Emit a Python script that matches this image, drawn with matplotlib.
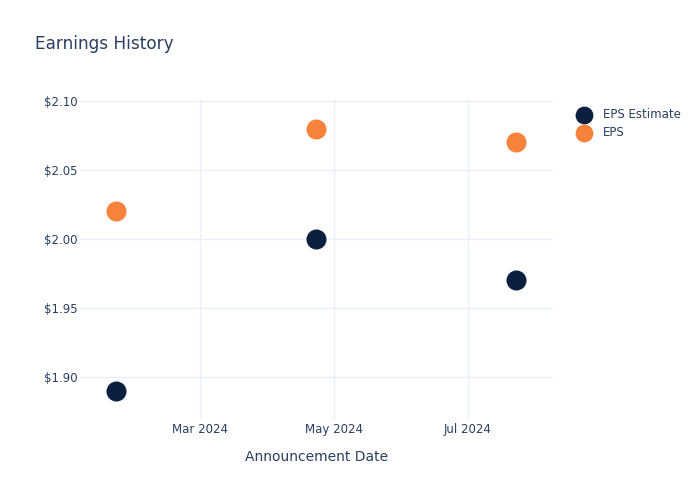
import matplotlib
matplotlib.use("Agg")
import matplotlib.pyplot as plt
import matplotlib.dates as mdates
import numpy as np
from datetime import datetime

# データ
dates = [datetime(2024, 1, 23), datetime(2024, 4, 23), datetime(2024, 7, 23)]
eps_estimate = [1.89, 2.00, 1.97]
eps_actual = [2.02, 2.08, 2.07]

text_color = "#2a3f5f"
grid_color = "#ebf0f8"

fig = plt.figure(figsize=(7, 5), dpi=100)
ax = fig.add_axes([80 / 700, 80 / 500, (553 - 80) / 700, (420 - 100) / 500])

ax.scatter(dates, eps_estimate, s=180, color="#0c1f3f", label="EPS Estimate", zorder=3)
ax.scatter(dates, eps_actual, s=180, color="#f7823a", label="EPS", zorder=3)

ax.set_xlim(datetime(2024, 1, 6, 10), datetime(2024, 8, 8, 16))
ax.set_ylim(1.8688, 2.1007)
ax.set_yticks([1.90, 1.95, 2.00, 2.05, 2.10])
ax.yaxis.set_major_formatter(matplotlib.ticker.FuncFormatter(lambda v, p: f"${v:.2f}"))
ax.xaxis.set_major_locator(mdates.MonthLocator(bymonth=[3, 5, 7]))
ax.xaxis.set_major_formatter(mdates.DateFormatter("%b %Y"))

for s in ax.spines.values():
    s.set_visible(False)
ax.grid(True, color=grid_color, linewidth=1)
ax.set_axisbelow(True)
ax.tick_params(length=0, labelsize=8.5, colors=text_color)
ax.tick_params(axis="x", pad=2.5)
ax.tick_params(axis="y", pad=1.5)

ax.set_xlabel("Announcement Date", fontsize=10, color=text_color, labelpad=10)
fig.text(35 / 700, 1 - 44 / 500, "Earnings History", fontsize=12.2, color=text_color, va="center")

leg = ax.legend(loc="upper left", bbox_to_anchor=(562 / 700, 1 - 97 / 500),
                bbox_transform=fig.transFigure, frameon=False, fontsize=8.5,
                handletextpad=0.55, labelspacing=0.45, markerscale=0.88)
for t in leg.get_texts():
    t.set_color(text_color)

fig.savefig("out.png", dpi=100)
